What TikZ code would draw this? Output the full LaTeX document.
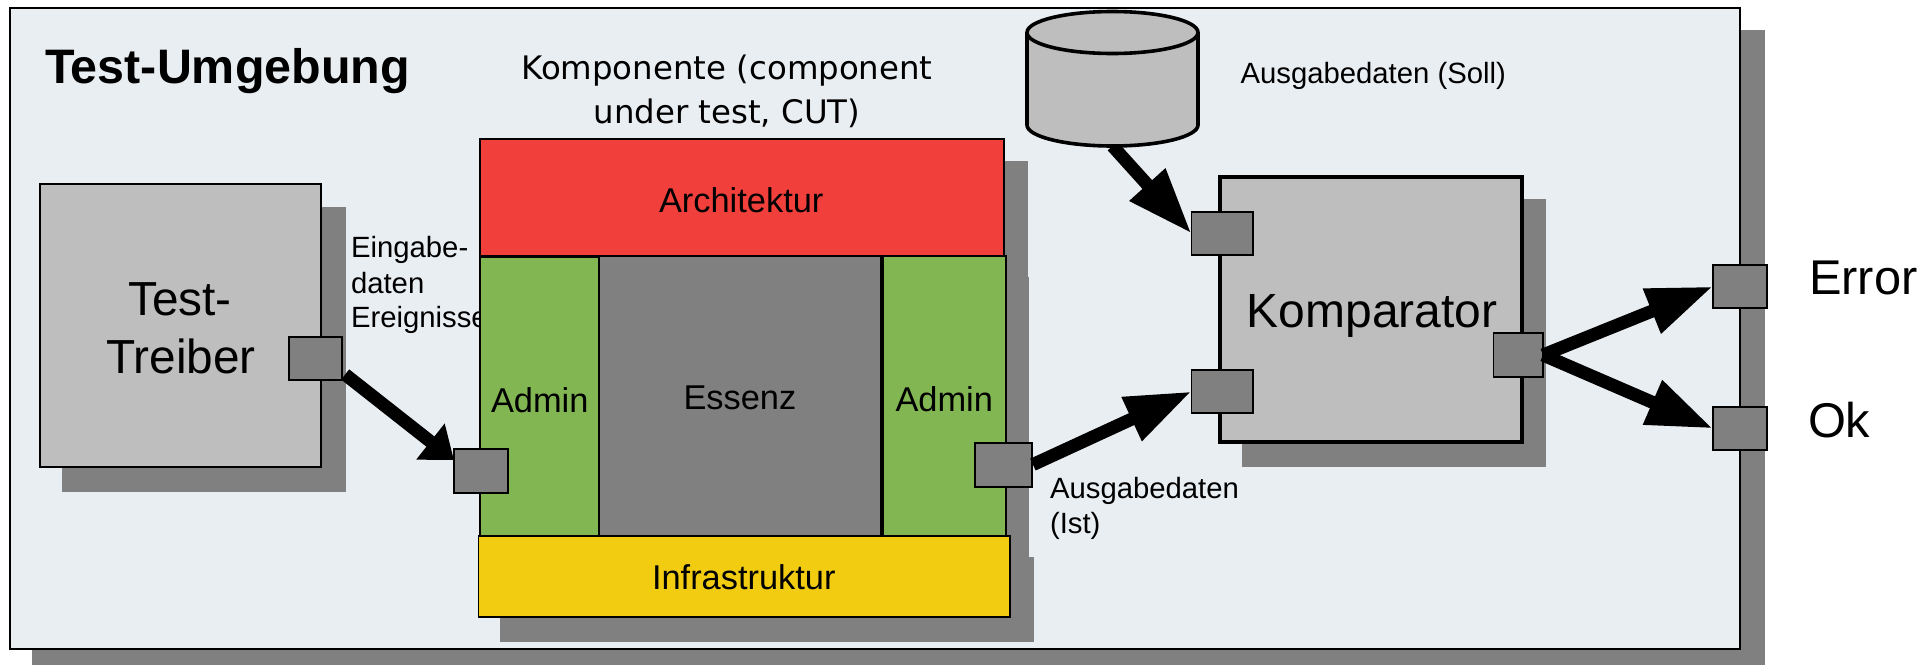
\documentclass[tikz,border=0pt]{standalone}
\usepackage{fontspec}
\setmainfont{Liberation Sans}
\newfontfamily\dejavu{DejaVu Sans}
\usetikzlibrary{arrows.meta}
\definecolor{envbg}{HTML}{E9EEF3}
\definecolor{shadowc}{HTML}{808080}
\definecolor{lightg}{HTML}{BEBEBE}
\definecolor{redc}{HTML}{F1403C}
\definecolor{greenc}{HTML}{82B652}
\definecolor{yellowc}{HTML}{F2CC10}
\newcommand{\pxbox}[6]{%
  \pgfmathsetmacro\cxv{(#2+#4)/2}%
  \pgfmathsetmacro\cyv{(#3+#5)/2}%
  \pgfmathsetmacro\wv{(#4-#2)*0.5}%
  \pgfmathsetmacro\hv{(#5-#3)*0.5}%
  \node[#6,minimum width=\wv pt,minimum height=\hv pt,inner sep=0pt,outer sep=0pt] (#1) at (\cxv,\cyv) {};}
\tikzset{
  x=0.5pt,y=-0.5pt,
  shade box/.style={fill=shadowc,draw=none},
  envbox/.style={rectangle,fill=envbg,draw=black,line width=1.2pt},
  greybox/.style={rectangle,fill=lightg,draw=black,line width=1pt},
  kompbox/.style={rectangle,fill=lightg,draw=black,line width=1.8pt},
  redbox/.style={rectangle,fill=redc,draw=black,line width=0.9pt},
  greenbox/.style={rectangle,fill=greenc,draw=black,line width=0.9pt},
  essbox/.style={rectangle,fill=shadowc,draw=black,line width=0.9pt},
  yellowbox/.style={rectangle,fill=yellowc,draw=black,line width=0.9pt},
  portbox/.style={rectangle,fill=shadowc,draw=black,line width=0.9pt},
  cylbox/.style={rectangle,draw=none},
  lab/.style={anchor=base west,inner sep=0pt,outer sep=0pt,text depth=0pt},
  mid/.style={font=\fontsize{17.2}{20}\selectfont},
  small/.style={font=\fontsize{14.65}{17}\selectfont},
  flowbig/.style={line width=6.5pt,-{Triangle[length=33pt,width=22.5pt]}},
  flowshort/.style={line width=6.5pt,-{Triangle[length=15pt,width=22pt]}},
}
\begin{document}
\begin{tikzpicture}
\useasboundingbox (0,0) rectangle (1931,665);
\fill[white] (0,0) rectangle (1931,665);
% environment
\fill[shade box] (32,30) rectangle (1765,665);
\pxbox{env}{10}{8}{1740}{649}{envbox}
\node[lab,font=\bfseries\fontsize{24.2}{28}\selectfont] (ttitle) at (45,83) {Test-Umgebung};
\node[anchor=base,inner sep=0pt,font=\dejavu\fontsize{16.2}{22}\selectfont] (tkomp1) at (727,79) {Komponente (component};
\node[anchor=base,inner sep=0pt,font=\dejavu\fontsize{16.2}{22}\selectfont] (tkomp2) at (727,123) {under test, CUT)};
\node[lab,small] (tsoll) at (1240.5,83) {Ausgabedaten (Soll)};
\node[lab,small] (tist1) at (1050,498) {Ausgabedaten};
\node[lab,small] (tist2) at (1050,533) {(Ist)};
% Test-Treiber
\fill[shade box] (62,207) rectangle (346,492);
\pxbox{treiber}{40}{184}{321}{467}{greybox}
\node[anchor=base,inner sep=0pt,font=\fontsize{23.9}{29}\selectfont] (ttest) at (180,315) {Test-};
\node[anchor=base,inner sep=0pt,font=\fontsize{23.9}{29}\selectfont] (ttreiber) at (181,373) {Treiber};
\node[lab,small] (tein1) at (351,257) {Eingabe-};
\node[lab,small] (tein2) at (351,293) {daten};
\node[lab,small] (tein3) at (351,327) {Ereignisse};
% component shadows
\fill[shade box] (500,161) rectangle (1028,300);
\fill[shade box] (500,277) rectangle (1029,560);
\fill[shade box] (500,557) rectangle (1034,642);
% component
\pxbox{arch}{480}{139}{1004}{256}{redbox}
\pxbox{admL}{480}{257}{599}{536}{greenbox}
\pxbox{ess}{599}{256}{881}{536}{essbox}
\pxbox{admR}{883}{256}{1006}{536}{greenbox}
\pxbox{infra}{478.5}{536}{1010}{617}{yellowbox}
\node[lab,mid] (tarch) at (659,212) {Architektur};
\node[lab,mid] (tadmL) at (491,412) {Admin};
\node[lab,mid] (tess) at (683.5,409) {Essenz};
\node[lab,mid] (tadmR) at (895.5,411) {Admin};
\node[lab,mid] (tinfra) at (652,589) {Infrastruktur};
% Komparator
\fill[shade box] (1242,199) rectangle (1546,467);
\pxbox{komp}{1220}{177}{1522}{442}{kompbox}
\node[anchor=base,inner sep=0pt,font=\fontsize{24}{29}\selectfont] (tkomparator) at (1372,327) {Komparator};
% data store anchor
\pxbox{cyl}{1027}{11}{1198}{146}{cylbox}
% ports
\pxbox{pt}{289}{337}{342}{380}{portbox}
\pxbox{pal}{454}{449}{508}{493}{portbox}
\pxbox{par}{975}{443}{1032}{487}{portbox}
\pxbox{pk1}{1191.5}{212}{1253}{255}{portbox}
\pxbox{pk2}{1191.5}{370}{1253}{413}{portbox}
\pxbox{pk3}{1493.5}{333}{1543}{377}{portbox}
\pxbox{perr}{1713}{265}{1767}{308}{portbox}
\pxbox{pok}{1713}{407}{1767}{450}{portbox}
% outer labels
\node[lab,font=\fontsize{24.4}{28}\selectfont] (terror) at (1809,294) {Error};
\node[lab,font=\fontsize{24.4}{28}\selectfont] (tok) at (1808,437) {Ok};
% connectors
\draw[flowshort,shorten <=2pt] (pt.-27) -- (pal.158);
\draw[flowbig,shorten <=0.5pt] (par.east) -- (pk2.west);
\draw[flowbig] (pk3.east) -- (perr.west);
\draw[flowbig] (pk3.east) -- (pok.west);
\draw[flowbig] (cyl.south) -- (pk1.west);
% cylinder: lower ellipse, body, top ellipse
\draw[fill=lightg,line width=1.8pt] (cyl.center |- 0,125) ellipse [x radius=85.5,y radius=21];
\fill[lightg] (cyl.west |- 0,33) rectangle (cyl.east |- 0,125);
\draw[line width=1.8pt] (cyl.west |- 0,33) -- (cyl.west |- 0,125);
\draw[line width=1.8pt] (cyl.east |- 0,33) -- (cyl.east |- 0,125);
\draw[fill=lightg,line width=1.8pt] (cyl.center |- 0,32.5) ellipse [x radius=85.5,y radius=21];
\end{tikzpicture}
\end{document}
